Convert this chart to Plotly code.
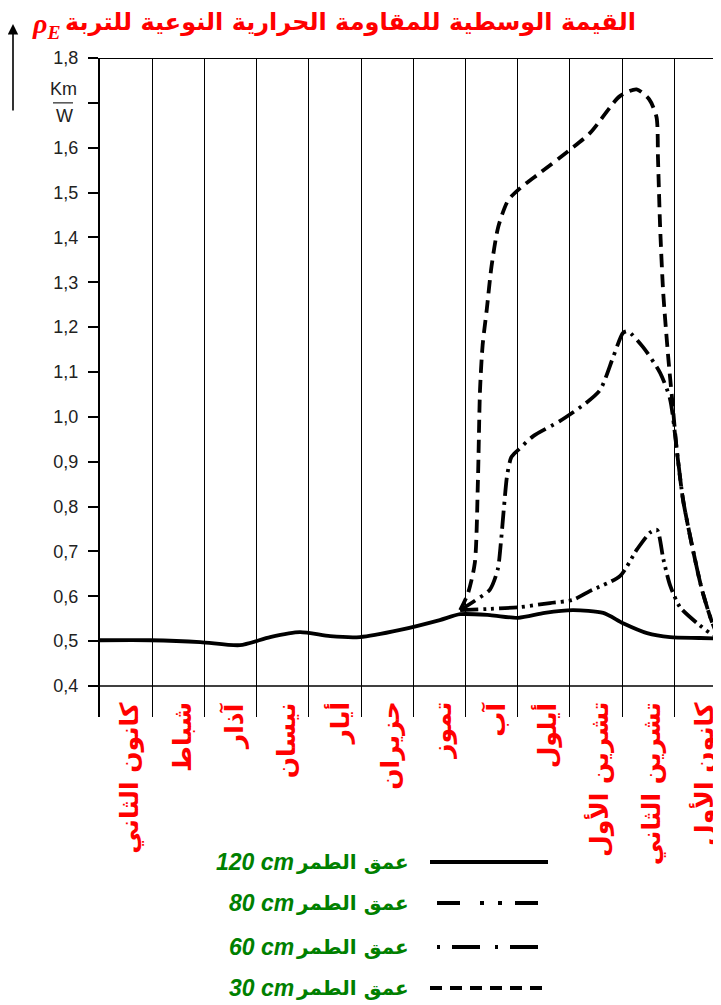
import plotly.graph_objects as go

# ---------------- data ----------------
month_labels = ["كانون الثاني", "شباط", "آذار", "نيسان", "أيار", "حزيران",
                "تموز", "آب", "أيلول", "تشرين الأول", "تشرين الثاني", "كانون الأول"]

y_tick_vals = [0.4, 0.5, 0.6, 0.7, 0.8, 0.9, 1.0, 1.1, 1.2, 1.3, 1.4, 1.5, 1.6, 1.7, 1.8]
y_tick_text = ["0,4", "0,5", "0,6", "0,7", "0,8", "0,9", "1,0", "1,1", "1,2", "1,3",
               "1,4", "1,5", "1,6", "", "1,8"]

title_text = "القيمة الوسطية للمقاومة الحرارية النوعية للتربة"
legend_word = "عمق الطمر"
depth_labels = ["120 cm", "80 cm", "60 cm", "30 cm"]

# month position (0 = start of January) and resistivity in K*m/W
x_120 = [0, 0.96, 1.92, 2.68, 3.26, 3.83, 4.41, 4.98, 5.75, 6.51, 6.90, 7.47,
         8.01, 8.52, 9.06, 9.64, 10.02, 10.48, 10.92, 11.50, 12.0]
y_120 = [0.502, 0.502, 0.498, 0.491, 0.509, 0.520, 0.511, 0.509, 0.525, 0.547, 0.560, 0.558,
         0.552, 0.563, 0.569, 0.563, 0.540, 0.518, 0.509, 0.507, 0.505]

x_80 = [6.90, 7.47, 8.05, 8.62, 9.06, 9.39, 9.96, 10.29, 10.54, 10.67, 10.79, 10.92,
        11.11, 11.44, 11.69, 11.90, 12.0]
y_80 = [0.569, 0.572, 0.576, 0.585, 0.592, 0.612, 0.645, 0.705, 0.742, 0.748, 0.684, 0.625,
        0.576, 0.540, 0.518, 0.507, 0.505]

x_60 = [6.90, 7.18, 7.47, 7.62, 7.68, 7.74, 7.80, 7.88, 8.00, 8.30, 8.80, 9.30, 9.58,
        9.83, 10.02, 10.11, 10.40, 10.73, 10.92, 11.05, 11.17, 11.36, 11.55, 11.82, 12.0]
y_60 = [0.569, 0.590, 0.615, 0.660, 0.720, 0.800, 0.870, 0.910, 0.925, 0.957, 0.990, 1.030, 1.060,
        1.133, 1.187, 1.191, 1.156, 1.098, 1.040, 0.926, 0.815, 0.703, 0.607, 0.518, 0.505]

x_30 = [6.90, 7.05, 7.18, 7.24, 7.28, 7.33, 7.41, 7.50, 7.63, 7.82, 8.05, 8.43, 9.00, 9.39,
        9.96, 10.28, 10.52, 10.66, 10.69, 10.73, 10.79, 10.89, 10.96, 11.05, 11.17, 11.36,
        11.55, 11.82, 12.0]
y_30 = [0.569, 0.607, 0.674, 0.859, 1.060, 1.160, 1.240, 1.335, 1.424, 1.483, 1.510, 1.544,
        1.595, 1.633, 1.715, 1.730, 1.708, 1.669, 1.573, 1.424, 1.276, 1.127, 1.040, 0.926,
        0.815, 0.703, 0.607, 0.518, 0.505]

# ---------------- geometry ----------------
# the page body adds an 8px margin, so the figure is laid out 8px smaller
OFF = 8
W, H = 721 - OFF, 1005 - OFF
L_REF, T_REF, B_REF = 100, 58, 717
L, T = L_REF - OFF, T_REF - OFF
PW = W - L
PH = B_REF - T_REF
BM = H - (B_REF - OFF)
X_MAX = PW / 52.2
Y_MIN = 0.4 - (B_REF - 686) / 448.6


def px(xp):
    return (xp - L_REF) / PW


def py(yp):
    return (B_REF - yp) / PH


fig = go.Figure()

series = [
    (x_30, y_30, "13px,7px"),
    (x_60, y_60, "18px,6px,3px,6px"),
    (x_80, y_80, "18px,5px,3px,5px,3px,5px"),
    (x_120, y_120, "solid"),
]
for xs, ys, dash in series:
    fig.add_trace(go.Scatter(x=xs, y=ys, mode="lines",
                             line=dict(color="black", width=3.8, dash=dash,
                                       shape="spline", smoothing=0.7),
                             showlegend=False, hoverinfo="skip"))

shapes = []
shapes.append(dict(type="line", xref="paper", yref="y", x0=0, x1=1, y0=0.4, y1=0.4,
                   line=dict(color="black", width=1.6)))
shapes.append(dict(type="line", xref="paper", yref="y", x0=0, x1=1, y0=1.8, y1=1.8,
                   line=dict(color="black", width=1.8)))
shapes.append(dict(type="line", xref="paper", yref="y", x0=px(53), x1=px(73), y0=1.7, y1=1.7,
                   line=dict(color="#222", width=1.2)))

annotations = []
annotations.append(dict(text="Km", xref="paper", yref="y", x=px(63), y=1.7, yshift=14,
                        xanchor="center", yanchor="middle", showarrow=False,
                        font=dict(family="Liberation Sans", size=18, color="#222")))
annotations.append(dict(text="W", xref="paper", yref="y", x=px(64), y=1.7, yshift=-13,
                        xanchor="center", yanchor="middle", showarrow=False,
                        font=dict(family="Liberation Sans", size=18, color="#222")))
annotations.append(dict(text="", xref="paper", yref="paper", x=px(13), y=py(24),
                        ax=0, ay=88, axref="pixel", ayref="pixel", showarrow=True,
                        arrowhead=2, arrowsize=1.3, arrowwidth=1.6, arrowcolor="black"))
annotations.append(dict(text="<b>" + title_text + "</b>", xref="paper", yref="paper",
                        x=px(350), y=py(22), xanchor="center", yanchor="middle", showarrow=False,
                        font=dict(family="DejaVu Sans", size=24, color="#ff0000")))
annotations.append(dict(text="<b><i>ρ</i></b><sub><b><i>E</i></b></sub>", xref="paper", yref="paper",
                        x=px(63), y=py(25), xanchor="right", yanchor="middle", showarrow=False,
                        font=dict(family="Liberation Serif", size=28, color="#ff0000")))
for i, lab in enumerate(month_labels):
    annotations.append(dict(text="<b>" + lab + "</b>", xref="x", yref="paper",
                            x=i + 0.57, y=py(700), xanchor="center", yanchor="top",
                            textangle=-90, showarrow=False,
                            font=dict(family="DejaVu Sans", size=25, color="#ff0000")))

legend_rows = [862, 903, 947, 988]
legend_dash = ["solid", "23px,20px,4px,14px,4px,13px", "3px,12px,28px,15px", "12px,8px"]
legend_x0 = [430, 437, 437, 430]
for lab, yrow, dash, x0 in zip(depth_labels, legend_rows, legend_dash, legend_x0):
    shapes.append(dict(type="line", xref="paper", yref="paper", x0=px(x0), x1=px(548),
                       y0=py(yrow), y1=py(yrow), line=dict(color="black", width=3.8, dash=dash)))
    annotations.append(dict(text="<b>" + legend_word + "</b>", xref="paper", yref="paper",
                            x=px(411), y=py(yrow), xanchor="right", yanchor="middle",
                            showarrow=False, font=dict(family="DejaVu Sans", size=20, color="#008000")))
    annotations.append(dict(text="<b><i>" + lab + "</i></b>", xref="paper", yref="paper",
                            x=px(296), y=py(yrow), xanchor="right", yanchor="middle",
                            showarrow=False, font=dict(family="Liberation Sans", size=23, color="#008000")))

fig.update_layout(
    width=W, height=H,
    margin=dict(l=L, r=0, t=T, b=BM, pad=0),
    paper_bgcolor="white", plot_bgcolor="white",
    showlegend=False,
    shapes=shapes, annotations=annotations,
    xaxis=dict(range=[0, X_MAX], tickvals=list(range(12)), showticklabels=False, ticks="",
               showgrid=True, gridcolor="black", gridwidth=1.3, zeroline=False, showline=False,
               fixedrange=True),
    yaxis=dict(range=[Y_MIN, 1.8], tickvals=y_tick_vals, ticktext=y_tick_text,
               showgrid=False, zeroline=False, showline=True, linecolor="black", linewidth=2.2,
               ticks="outside", ticklen=10, tickwidth=1.5, tickcolor="black",
               ticklabelstandoff=6,
               tickfont=dict(family="Liberation Sans", size=18, color="#222"), fixedrange=True),
)

fig.write_html("out.html")
